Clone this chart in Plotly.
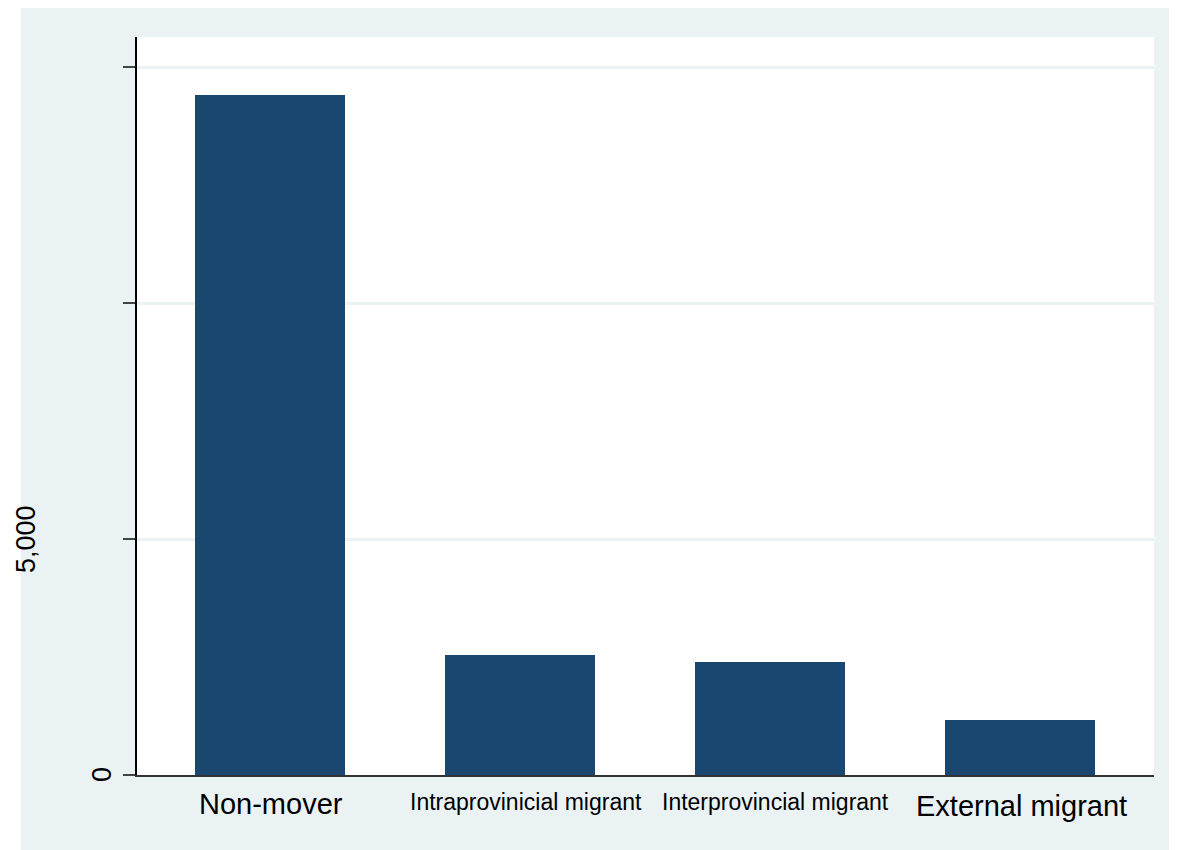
import plotly.graph_objects as go

categories = ["Non-mover", "Intraprovinicial migrant", "Interprovincial migrant", "External migrant"]
values = [14407, 2542, 2394, 1165]
label_sizes = [29, 23, 23, 29]
y_tick_vals = [0, 5000, 10000, 15000]
y_tick_labels = ["0", "5,000", "", ""]

BG = "#eaf2f3"
BAR = "#1a476f"

OFF = 8  # page body margin
W, H = 1177 - OFF, 850 - OFF
L, R, T, B = 137 - OFF, 23, 37 - OFF, 75
pw, ph = W - L - R, H - T - B

def px_x(px):
    return (px - OFF - L) / pw

def px_y(py):
    return (H - B - (py - OFF)) / ph

xs = list(range(len(categories)))

fig = go.Figure()
fig.add_trace(go.Bar(x=xs, y=values, width=0.6, marker=dict(color=BAR, line=dict(width=0)),
                     showlegend=False))

fig.update_layout(
    width=W, height=H,
    margin=dict(l=L, r=R, t=T, b=B, pad=0),
    paper_bgcolor=BG, plot_bgcolor="white",
    font=dict(family="Liberation Sans, Arial, sans-serif", color="black"),
    bargap=0.4,
)
fig.update_xaxes(range=[-0.532, 3.536], showticklabels=False, showgrid=False, zeroline=False,
                 showline=True, linecolor="#333333", linewidth=1.5, ticks="", fixedrange=True)
fig.update_yaxes(range=[0, 15636], tickvals=y_tick_vals, ticktext=["", "", "", ""],
                 showgrid=True, gridcolor=BG, gridwidth=2.5, zeroline=False,
                 showline=True, linecolor="black", linewidth=1.5,
                 ticks="outside", ticklen=12, tickwidth=1.5, tickcolor="#444444")

# white outer strip (left)
fig.add_shape(type="rect", xref="paper", yref="paper", x0=px_x(0), x1=px_x(21), y0=px_y(860), y1=px_y(0),
              fillcolor="white", line=dict(width=0), layer="below")

# category labels
label_y = [804, 802, 802, 806]
xshift = [1, 6, 5, 1]
for i, (c, s) in enumerate(zip(categories, label_sizes)):
    fig.add_annotation(x=xs[i], y=px_y(label_y[i]), xref="x", yref="paper", text=c, showarrow=False,
                       xanchor="center", yanchor="middle", xshift=xshift[i],
                       font=dict(size=s, family="Liberation Sans, Arial, sans-serif", color="black"))

# y tick labels (rotated, Stata style)
label_x = [102, 26]
for v, t, lx in zip(y_tick_vals[:2], y_tick_labels[:2], label_x):
    fig.add_annotation(x=px_x(lx), y=v, xref="paper", yref="y", text=t, showarrow=False,
                       textangle=-90, xanchor="center", yanchor="middle",
                       font=dict(size=27, family="Liberation Sans, Arial, sans-serif", color="black"))

fig.write_html("out.html")
